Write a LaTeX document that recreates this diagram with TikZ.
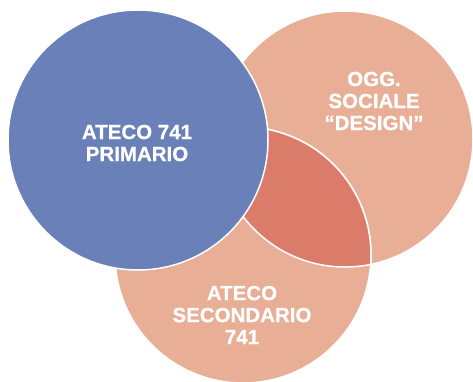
\documentclass[tikz,border=0pt]{standalone}
\usepackage{fontspec}
\setsansfont{Liberation Sans}[FakeBold=0.6]
\usetikzlibrary{positioning}
\definecolor{primBlue}{HTML}{6A80B9}
\definecolor{secSalmon}{HTML}{E8AF96}
\definecolor{lensRed}{HTML}{DB7B6A}
\tikzset{
  font=\sffamily\bfseries\fontsize{20.5}{22}\selectfont,
  venn/.style={circle, draw=white, line width=1.5pt, inner sep=0pt},
  rim/.style={draw=white, line width=1.5pt},
  label/.style={text=white, align=center},
}
\begin{document}
\begin{tikzpicture}[x=1pt, y=-1pt]
\useasboundingbox (0,0) rectangle (473,381);

% --- salmon circles ---
\node[venn, fill=secSalmon, minimum size=256pt] (oggetto)    at (345,139) {};
\node[venn, fill=secSalmon, minimum size=256pt] (secondario) at (243,255) {};

% --- overlap of the two salmon circles ---
\begin{scope}
  \clip (oggetto.center) circle (128pt);
  \fill[lensRed] (secondario.center) circle (128pt);
  \draw[rim] (secondario.center) circle (128pt);
\end{scope}
\begin{scope}
  \clip (secondario.center) circle (128pt);
  \draw[rim] (oggetto.center) circle (128pt);
\end{scope}

% --- blue circle on top ---
\node[venn, fill=primBlue, minimum size=260pt] (primario) at (138,140) {};

% --- labels ---
\node[label] (primTxt) at (137,143) {ATECO 741\\PRIMARIO};
\node[label] (oggTxt)  at (374,101) {OGG.\\SOCIALE\\``DESIGN''};
\node[label] (secTxt)  at (242,315) {ATECO\\SECONDARIO\\741};

\end{tikzpicture}
\end{document}
